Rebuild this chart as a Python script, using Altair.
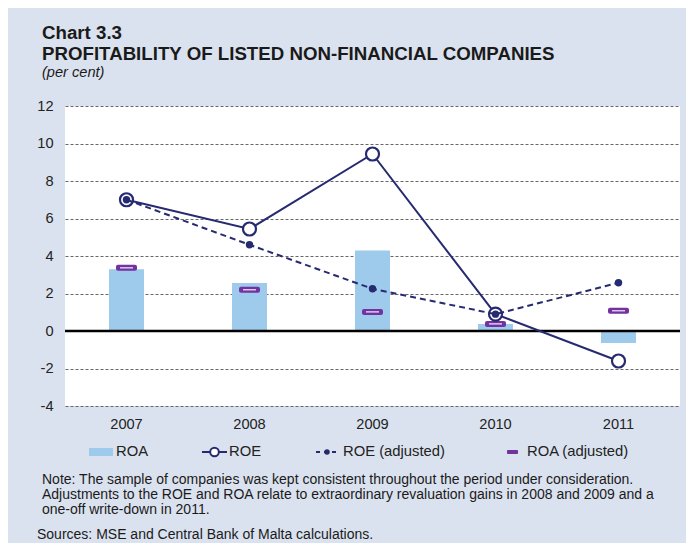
import altair as alt
import pandas as pd

years = ["2007", "2008", "2009", "2010", "2011"]
roa = [3.3, 2.56, 4.3, 0.38, -0.64]
roe = [7.0, 5.44, 9.44, 0.9, -1.6]
roe_adj = [7.0, 4.6, 2.25, 0.9, 2.57]
roa_adj = [3.37, 2.2, 1.02, 0.38, 1.08]
y_ticks = [-4, -2, 0, 2, 4, 6, 8, 10, 12]

title_lines = ["Chart 3.3", "PROFITABILITY OF LISTED NON-FINANCIAL COMPANIES"]
subtitle = "(per cent)"
note_lines = [
    "Note: The sample of companies was kept consistent throughout the period under consideration.",
    "Adjustments to the ROE and ROA relate to extraordinary revaluation gains in 2008 and 2009 and a",
    "one-off write-down in 2011.",
]
source_line = "Sources: MSE and Central Bank of Malta calculations."
legend_labels = ["ROA", "ROE", "ROE (adjusted)", "ROA (adjusted)"]

NAVY = "#262a70"
PURPLE = "#7232a0"
LAV = "#d8c8ec"
BLUE = "#9ecaec"
BG = "#dbe2ef"
TXT = "#1a1a1a"
FONT = "Liberation Sans"

df = pd.DataFrame({"year": years, "roa": roa, "roe": roe, "roe_adj": roe_adj, "roa_adj": roa_adj})

W, H = 615, 300

xenc = alt.X("year:N", scale=alt.Scale(paddingInner=0, paddingOuter=0),
             axis=alt.Axis(title=None, labelAngle=0, ticks=False, domain=False,
                           labelFontSize=14.6, labelFont=FONT, labelColor="#222222",
                           labelPadding=10))
yscale = alt.Scale(domain=[-4, 12], nice=False, zero=False)
yaxis = alt.Axis(title=None, values=y_ticks, ticks=False, domain=False,
                 labelFontSize=14.6, labelFont=FONT, labelColor="#222222", labelPadding=12,
                 labelOverlap=False,
                 labelExpr="datum.value < 0 ? '-' + abs(datum.value) : '' + datum.value",
                 grid=True, gridColor="#666666", gridDash=[3, 2], gridWidth=1)


def Y(field):
    return alt.Y(field, scale=yscale, axis=yaxis)


base = alt.Chart(df)

bars = base.mark_bar(color=BLUE, width=35).encode(x=xenc, y=Y("roa:Q"))

zero = alt.Chart(pd.DataFrame({"z": [0]})).mark_rule(color="black", strokeWidth=2.5).encode(
    y=Y("z:Q"))

roa_adj_outer = base.mark_tick(color=PURPLE, size=21, thickness=6, cornerRadius=2, opacity=1).encode(
    x=xenc, y=Y("roa_adj:Q"))
roa_adj_inner = base.mark_tick(color=LAV, size=13, thickness=1.5, opacity=1).encode(
    x=xenc, y=Y("roa_adj:Q"))

roe_line = base.mark_line(color=NAVY, strokeWidth=2).encode(x=xenc, y=Y("roe:Q"))
roe_pts = base.mark_point(shape="circle", filled=True, fill="white", stroke=NAVY,
                          strokeWidth=2.2, size=170, opacity=1).encode(x=xenc, y=Y("roe:Q"))

roe_adj_line = base.mark_line(color=NAVY, strokeWidth=2, strokeDash=[6, 4]).encode(
    x=xenc, y=Y("roe_adj:Q"))
roe_adj_pts = base.mark_point(shape="circle", filled=True, color=NAVY, size=55, opacity=1).encode(
    x=xenc, y=Y("roe_adj:Q"))

# ---- legend (decoration, positioned in pixels) ----
one = pd.DataFrame({"a": [0]})
LY = 346
leg = []
leg.append(alt.Chart(one).mark_rect(color=BLUE).encode(
    x=alt.value(24), x2=alt.value(48), y=alt.value(LY - 4), y2=alt.value(LY + 4)))
leg.append(alt.Chart(one).mark_rule(color=NAVY, strokeWidth=2).encode(
    x=alt.value(137), x2=alt.value(162), y=alt.value(LY)))
leg.append(alt.Chart(one).mark_point(shape="circle", filled=True, fill="white", stroke=NAVY,
                                     strokeWidth=2, size=75, opacity=1).encode(
    x=alt.value(149.5), y=alt.value(LY)))
leg.append(alt.Chart(one).mark_rule(color=NAVY, strokeWidth=2, strokeDash=[4, 4]).encode(
    x=alt.value(251), x2=alt.value(273), y=alt.value(LY)))
leg.append(alt.Chart(one).mark_point(shape="circle", filled=True, color=NAVY, size=30, opacity=1).encode(
    x=alt.value(262), y=alt.value(LY)))
leg.append(alt.Chart(one).mark_rect(color=PURPLE, cornerRadius=1).encode(
    x=alt.value(442), x2=alt.value(453), y=alt.value(LY - 2), y2=alt.value(LY + 2)))

leg_df = pd.DataFrame({"label": legend_labels, "px": [51, 164, 278, 462]})
leg.append(alt.Chart(leg_df).mark_text(align="left", baseline="middle", font=FONT, fontSize=14.8,
                                       color="#222222").encode(
    x=alt.X("px:Q", scale=None), y=alt.value(LY), text="label:N"))

# ---- titles and notes ----
title_df = pd.DataFrame({"t": title_lines, "py": [-67, -46]})
titles = alt.Chart(title_df).mark_text(align="left", baseline="alphabetic", font=FONT, fontSize=18.7,
                                       fontWeight="bold", color=TXT).encode(
    x=alt.value(-23), y=alt.Y("py:Q", scale=None), text="t:N")
sub = alt.Chart(pd.DataFrame({"t": [subtitle]})).mark_text(
    align="left", baseline="alphabetic", font=FONT, fontSize=14.6, fontStyle="italic",
    color=TXT).encode(x=alt.value(-23), y=alt.value(-29), text="t:N")

note_df = pd.DataFrame({"t": note_lines, "py": [374, 389, 404]})
notes = alt.Chart(note_df).mark_text(align="left", baseline="middle", font=FONT, fontSize=14,
                                     color=TXT).encode(
    x=alt.value(-23), y=alt.Y("py:Q", scale=None), text="t:N")
src = alt.Chart(pd.DataFrame({"t": [source_line]})).mark_text(
    align="left", baseline="middle", font=FONT, fontSize=14, color=TXT).encode(
    x=alt.value(-28), y=alt.value(429), text="t:N")

chart = alt.layer(
    bars, zero, roa_adj_outer, roa_adj_inner, roe_line, roe_pts, roe_adj_line, roe_adj_pts,
    *leg, titles, sub, notes, src
).properties(
    width=W, height=H, background=BG,
    autosize=alt.AutoSizeParams(type="none"),
    padding={"left": 57, "top": 98, "right": 6, "bottom": 137},
).configure_view(fill="white", stroke=None)

chart.save("out.html", embed_options={"renderer": "svg", "actions": False})
